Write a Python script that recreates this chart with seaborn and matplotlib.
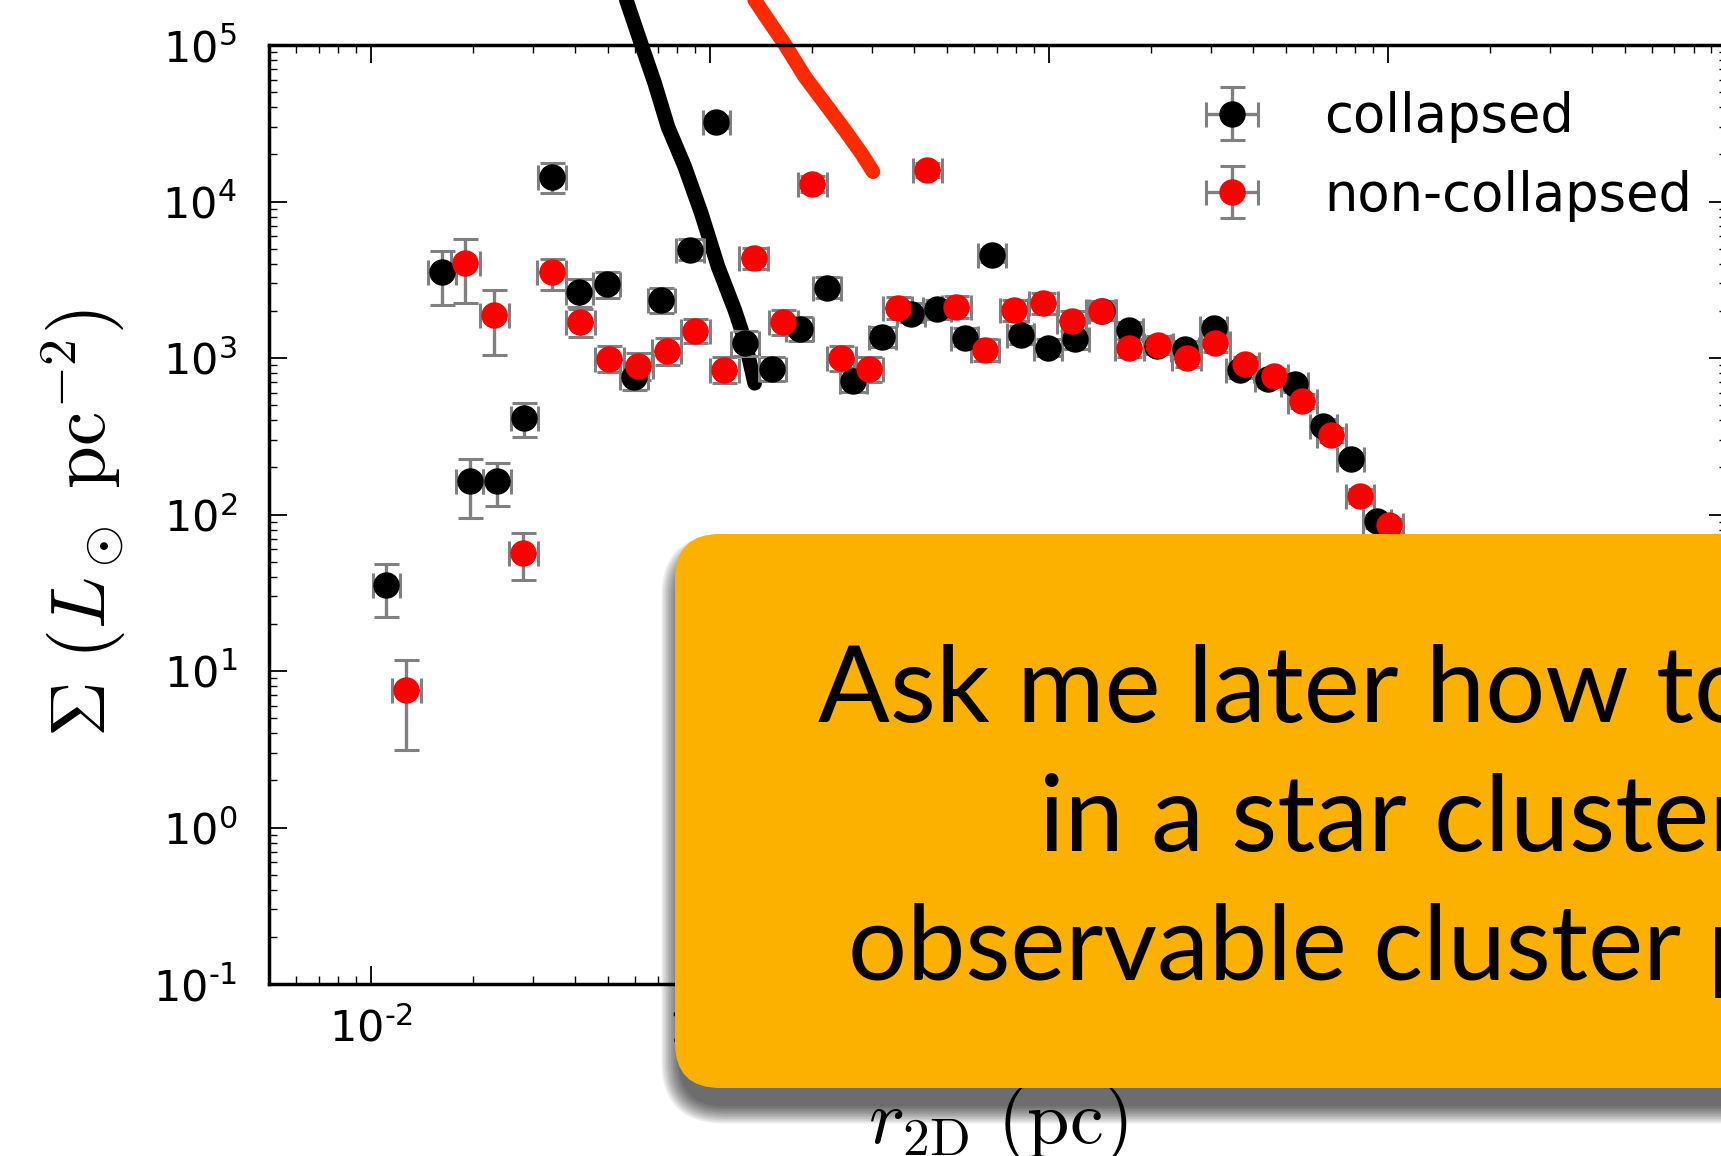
import numpy as np
import matplotlib
matplotlib.use("Agg")
import matplotlib.pyplot as plt
import matplotlib.transforms as mtrans
from matplotlib.patches import FancyBboxPatch
from matplotlib.ticker import FuncFormatter, LogLocator, NullFormatter
import seaborn as sns

# ---------------- data ----------------
r_col = [0.01110, 0.01621, 0.01953, 0.02352, 0.02834, 0.03414, 0.04113, 0.04956,
         0.05966, 0.07188, 0.08725, 0.1043, 0.1267, 0.1526, 0.1838, 0.2214,
         0.2647, 0.3222, 0.3910, 0.4675, 0.5632, 0.6787, 0.8240, 0.9926,
         1.196, 1.436, 1.723, 2.088, 2.519, 3.058, 3.657, 4.438, 5.308,
         6.444, 7.762, 9.282]
s_col = [35.5, 3530, 164, 164, 413, 14400, 2640, 2960, 753, 2335, 4890, 32200,
         1242, 847, 1527, 2812, 715, 1365, 1914, 2056, 1350, 4530, 1409, 1161,
         1321, 2000, 1500, 1200, 1143, 1553, 840, 738, 681, 369, 227, 90.6]
s_col_lo = [22.0, 2180, 95, 114, 315, 11300, 2110, 2430, 620, 1950, 4200, 29500,
            1030, 710, 1290, 2400, 610, 1180, 1700, 1780, 1190, 4100, 1230, 1030,
            1150, 1750, 1320, 1060, 1010, 1400, 750, 660, 610, 335, 207, 82]
s_col_hi = [48.4, 4810, 227, 213, 514, 17700, 3190, 3550, 910, 2800, 5800, 35200,
            1480, 1010, 1820, 3300, 860, 1580, 2250, 2350, 1560, 5000, 1600, 1320,
            1500, 2250, 1700, 1360, 1290, 1720, 930, 820, 750, 405, 248, 99]

r_nc = [0.01270, 0.01895, 0.02308, 0.02813, 0.03414, 0.04144, 0.05045, 0.06147,
        0.07461, 0.09057, 0.1103, 0.1344, 0.1644, 0.2002, 0.2440, 0.2938,
        0.3578, 0.4372, 0.5326, 0.6471, 0.7884, 0.9605, 1.167, 1.421, 1.725,
        2.102, 2.551, 3.097, 3.776, 4.598, 5.582, 6.803, 8.266, 10.07]
s_nc = [7.53, 4065, 1880, 56.8, 3530, 1702, 987, 885, 1102, 1487, 840, 4335,
        1687, 12970, 997, 847, 2094, 15850, 2115, 1132, 2023, 2235, 1722, 2004,
        1164, 1217, 997, 1242, 910, 762, 535, 324, 132, 85.3]
s_nc_lo = [3.13, 2235, 1042, 38.1, 2700, 1370, 810, 720, 900, 1240, 690, 3700,
           1400, 11500, 820, 700, 1780, 14300, 1800, 960, 1730, 1920, 1480, 1740,
           1020, 1070, 880, 1100, 810, 680, 480, 292, 118, 76]
s_nc_hi = [11.7, 5800, 2700, 75.7, 4300, 2060, 1190, 1080, 1340, 1770, 1020, 5050,
           2030, 14600, 1200, 1020, 2450, 17500, 2480, 1330, 2360, 2600, 2000, 2300,
           1320, 1380, 1120, 1400, 1020, 850, 590, 356, 146, 94]

# half bin widths (dex) of the radial bins
bin_half_col = 0.0405
bin_half_nc = 0.0426

# steep model profiles (bands)
band_col_r = [0.05662, 0.06271, 0.06869, 0.07516, 0.08422, 0.09425, 0.1056,
              0.1183, 0.1266, 0.1354]
band_col_s = [193900, 101000, 56920, 29920, 16690, 8405, 3832, 2026, 1303, 689]
band_nc_r = [0.1354, 0.1483, 0.1661, 0.1903, 0.2180, 0.2496, 0.2794, 0.3025]
band_nc_s = [193900, 144500, 101000, 62700, 42400, 28640, 20320, 15500]

labels = ["collapsed", "non-collapsed"]
box_lines = ["Ask me later how to", "in a star cluster", "observable cluster p"]

# ---------------- style ----------------
sns.set_theme(style="ticks")
plt.rcParams["font.family"] = ["DejaVu Sans"]
plt.rcParams["mathtext.fontset"] = "cm"
plt.rcParams["axes.edgecolor"] = "black"
plt.rcParams["text.color"] = "black"
plt.rcParams["axes.labelcolor"] = "black"
plt.rcParams["xtick.color"] = "black"
plt.rcParams["ytick.color"] = "black"

W, H = 1721, 1156
fig = plt.figure(figsize=(W / 100, H / 100), dpi=100)
fig.patch.set_facecolor("white")
ax_l, ax_r, ax_t, ax_b = 269, 1727, 45, 984
ax = fig.add_axes([ax_l / W, (H - ax_b) / H, (ax_r - ax_l) / W, (ax_b - ax_t) / H])
ax.set_facecolor("white")
ax.set_xscale("log")
ax.set_yscale("log")
ax.set_xlim(0.005, 100)
ax.set_ylim(0.1, 1e5)

# bands
sns.lineplot(x=band_col_r, y=band_col_s, sort=False, estimator=None, ax=ax,
             color="black", lw=10.5, clip_on=False, legend=False, zorder=2)
sns.lineplot(x=band_nc_r, y=band_nc_s, sort=False, estimator=None, ax=ax,
             color="#ff2a00", lw=10.5, clip_on=False, legend=False, zorder=2)


def draw(r, s, lo, hi, half, color, label):
    r = np.asarray(r); s = np.asarray(s)
    lo = np.asarray(lo); hi = np.asarray(hi)
    xerr = [r - r * 10 ** (-half), r * 10 ** half - r]
    yerr = [s - lo, hi - s]
    ax.errorbar(r, s, xerr=xerr, yerr=yerr, fmt="o", ms=18, mfc=color, mec=color,
                ecolor="#808080", elinewidth=2.4, capsize=9, capthick=2.2,
                label=label, zorder=3)


draw(r_col, s_col, s_col_lo, s_col_hi, bin_half_col, "black", labels[0])
draw(r_nc, s_nc, s_nc_lo, s_nc_hi, bin_half_nc, "red", labels[1])

# ticks
def fmt(v, pos):
    e = int(round(np.log10(v)))
    return r"$\mathdefault{10^{%s}}$" % str(e).replace("-", "\u2010")

for axis in (ax.xaxis, ax.yaxis):
    axis.set_major_locator(LogLocator(base=10, numticks=20))
    axis.set_minor_locator(LogLocator(base=10, subs=np.arange(2, 10), numticks=20))
    axis.set_major_formatter(FuncFormatter(fmt))
    axis.set_minor_formatter(NullFormatter())
ax.tick_params(which="both", direction="in", top=True, right=True)
ax.tick_params(which="major", length=12.7, width=1.3, labelsize=31)
ax.tick_params(which="minor", length=6, width=1.0)
ax.tick_params(axis="x", which="major", pad=17.5)
ax.tick_params(axis="y", which="major", pad=23)
for sp in ax.spines.values():
    sp.set_linewidth(2.5)
    sp.set_color("black")

ax.set_ylabel(r"$\Sigma\ (L_\odot\ \mathrm{pc}^{-2})$", fontsize=55.5)
ax.set_xlabel(r"$r_{\rm 2D}\ (\rm pc)$", fontsize=55)
ax.yaxis.set_label_coords((128 - ax_l) / (ax_r - ax_l), 0.5 - 9 / (ax_b - ax_t))
ax.xaxis.set_label_coords(0.5, -(1084 - ax_b) / (ax_b - ax_t))

leg = ax.legend(loc="upper left", bbox_to_anchor=(1158 / W, 1 - 70 / H),
                bbox_transform=fig.transFigure, frameon=False, fontsize=38,
                labelspacing=0.5, handletextpad=0.75, borderpad=0.4,
                borderaxespad=0, numpoints=1)

# ---------------- overlay box ----------------
pix = mtrans.Affine2D().scale(1 / W, 1 / H) + fig.transFigure
bx0, by_top, by_bot = 675, 534, 1088
bw, bh = 1400, by_bot - by_top
for i in range(12):
    g = i * 1.6
    sh = FancyBboxPatch((bx0 + 4 - g, H - by_bot - 18 - g), bw + 2 * g, bh + 2 * g,
                        boxstyle="round,pad=0,rounding_size=%g" % (45 + g),
                        transform=pix, fc="black", ec="none", alpha=0.065,
                        zorder=20)
    fig.add_artist(sh)
box = FancyBboxPatch((bx0, H - by_bot), bw, bh,
                     boxstyle="round,pad=0,rounding_size=45", transform=pix,
                     fc="#fcb000", ec="none", zorder=21)
fig.add_artist(box)

line_pos = [(818, 722, 76.5), (1039, 851, 76.5), (848, 980, 75)]
for txt, (x, y, fs) in zip(box_lines, line_pos):
    fig.text(x, H - y, txt, transform=pix, fontsize=fs, family=["Lato", "DejaVu Sans"],
             ha="left", va="baseline", color="black", zorder=22)

fig.savefig("out.png", dpi=100)
